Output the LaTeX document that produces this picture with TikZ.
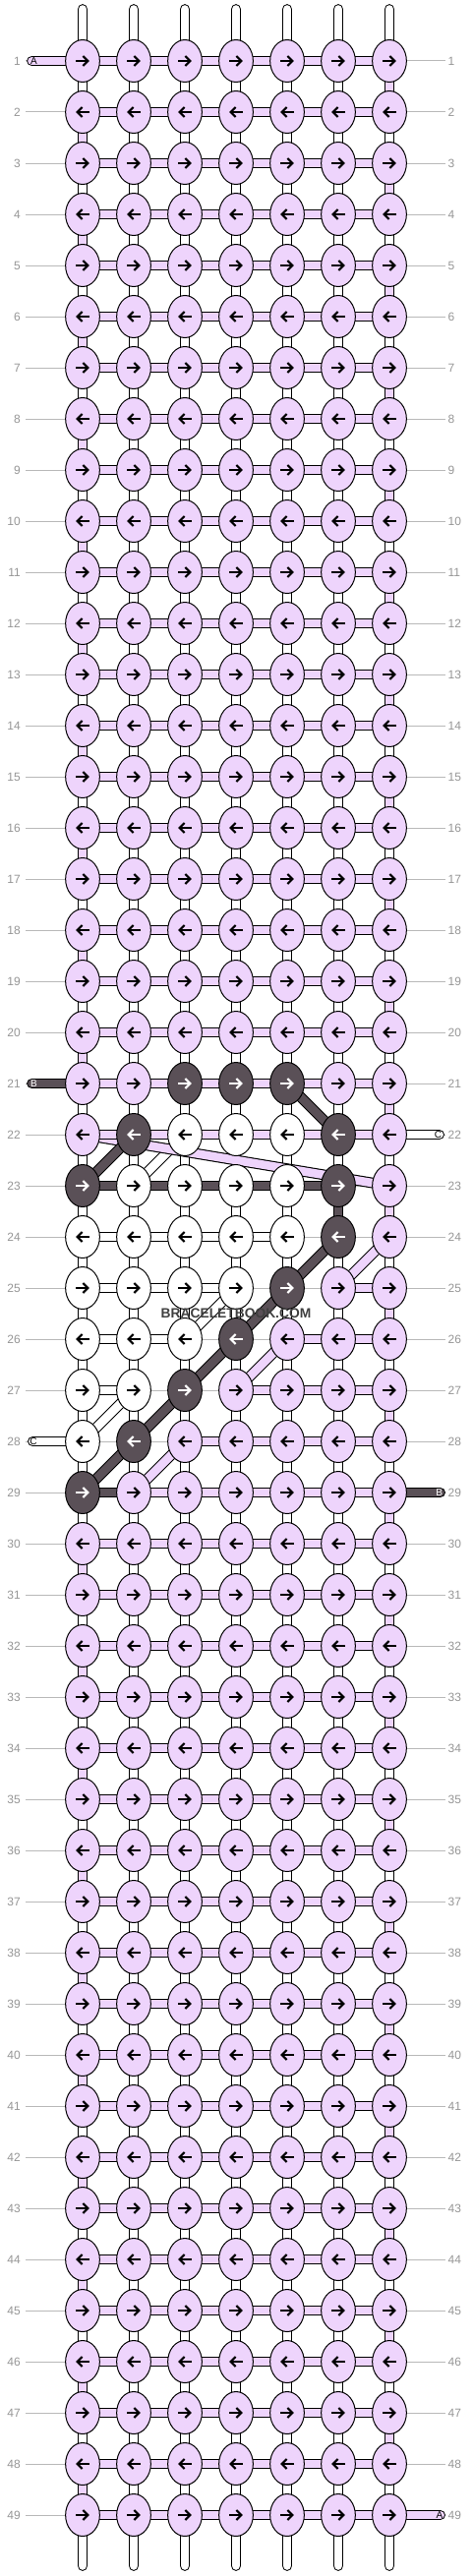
\documentclass[tikz,border=0pt]{standalone}
\usepackage{fontspec}
\setmainfont{Liberation Sans}
\usetikzlibrary{shapes.geometric}
\pgfdeclarelayer{bgl}
\pgfdeclarelayer{vl}
\pgfdeclarelayer{dg}
\pgfdeclarelayer{hl}
\pgfsetlayers{bgl,vl,dg,hl,main}
\definecolor{P}{RGB}{238,212,252}
\definecolor{D}{RGB}{90,80,87}
\definecolor{W}{RGB}{255,255,255}
\definecolor{B}{RGB}{255,255,255}
\definecolor{rowgray}{RGB}{185,185,185}
\definecolor{numgray}{RGB}{150,150,150}
\definecolor{midgray}{RGB}{175,175,175}
\definecolor{wm}{RGB}{64,64,64}
\newcommand\kset[2]{\foreach \x [count=\i] in {#2} {\expandafter\xdef\csname kc-#1-\i\endcsname{\x}}}
\newcommand\hset[2]{\foreach \x [count=\i] in {#2} {\expandafter\xdef\csname hc-#1-\i\endcsname{\x}}}
\newcommand\vset[2]{\foreach \x [count=\i] in {#2} {\expandafter\xdef\csname vc-#1-\i\endcsname{\x}}}
\kset{21}{P,P,D,D,D,P,P}
\kset{22}{P,D,W,W,W,D,P}
\kset{23}{D,W,W,W,W,D,P}
\kset{24}{W,W,W,W,W,D,P}
\kset{25}{W,W,W,W,D,P,P}
\kset{26}{W,W,W,D,P,P,P}
\kset{27}{W,W,D,P,P,P,P}
\kset{28}{W,D,P,P,P,P,P}
\kset{29}{D,P,P,P,P,P,P}
\hset{23}{D,D,D,D,D,N}
\hset{24}{W,W,W,W,N,N}
\hset{25}{W,W,W,N,N,P}
\hset{26}{W,W,N,N,P,P}
\hset{27}{W,N,N,P,P,P}
\hset{28}{N,N,P,P,P,P}
\hset{29}{D,P,P,P,P,P}
\vset{22}{B,B,B,B,B,B,B}
\vset{23}{B,B,B,B,B,D,P}
\vset{24}{W,B,B,B,B,B,B}
\vset{26}{W,B,B,B,B,B,B}
\vset{28}{B,B,B,B,B,B,B}
\tikzset{
 knot/.style={ellipse, draw=black, line width=1pt, minimum width=34.7pt, minimum height=43pt, inner sep=0pt},
 band/.style={draw=black, line width=1.1pt, double distance=8.6pt},
 midline/.style={draw=midgray, line width=0.7pt, double=white, double distance=1.2pt},
 rowline/.style={draw=rowgray, line width=1pt},
 numl/.style={font=\fontsize{12}{12}\selectfont, text=numgray, anchor=east, inner xsep=5pt, inner ysep=0pt},
 numr/.style={font=\fontsize{12}{12}\selectfont, text=numgray, anchor=west, inner xsep=2.5pt, inner ysep=0pt},
 tag/.style={font=\fontsize{10}{10}\selectfont, inner sep=0pt},
 rarr/.pic={\draw[line width=2.1pt, line cap=butt] (-7,0) -- (5.2,0);
            \draw[line width=2.1pt, line cap=butt, line join=miter] (0.4,-5) -- (5.4,0) -- (0.4,5);}
}
\begin{document}
\begin{tikzpicture}[x=1pt,y=-1pt]
\useasboundingbox (0,0) rectangle (480,2620);
\begin{pgfonlayer}{bgl}\fill[white] (0,0) rectangle (480,2620);\end{pgfonlayer}
% knots
\foreach \ri in {1,...,49}{
 \foreach \ci in {1,...,7}{
  \edef\kc{\ifcsname kc-\ri-\ci\endcsname\csname kc-\ri-\ci\endcsname\else P\fi}
  \if D\kc\def\ac{white}\else\def\ac{black}\fi
  \ifodd\ri\relax\def\sg{1}\else\def\sg{-1}\fi
  \node[knot, fill=\kc] (k-\ri-\ci) at ({84+52*(\ci-1)},{62+52*(\ri-1)}) {};
  \pic[color=\ac, xscale=\sg] at (k-\ri-\ci.center) {rarr};
 }}
% row numbers and lines
\foreach \ri in {1,...,49}{
  \node[numl] (ll-\ri) at (26,{62+52*(\ri-1)}) {\ri};
  \node[numr] (lr-\ri) at (453,{62+52*(\ri-1)}) {\ri};
  \begin{pgfonlayer}{bgl}\draw[rowline] (ll-\ri.east) -- (lr-\ri.west);\end{pgfonlayer}
}
% vertical links
\begin{pgfonlayer}{vl}
\foreach \ri in {1,...,48}{
 \pgfmathtruncatemacro\rn{\ri+1}
 \foreach \ci in {1,...,7}{
  \edef\vc{\ifcsname vc-\ri-\ci\endcsname\csname vc-\ri-\ci\endcsname\else\ifodd\ri\space\ifnum\ci=7 P\else B\fi\else\ifnum\ci=1 P\else B\fi\fi\fi}
  \draw[band, double=\vc] (k-\ri-\ci.center) -- (k-\rn-\ci.center);
  \if B\vc \draw[midline] (k-\ri-\ci.center) -- (k-\rn-\ci.center);\fi
 }}
\foreach \ci in {1,...,7}{
 \coordinate (t-\ci) at ({84+52*(\ci-1)},9.5);
 \coordinate (b-\ci) at ({84+52*(\ci-1)},2609.5);
 \draw[band,double=white,line cap=round] (t-\ci) -- (k-1-\ci.center);
 \draw[midline] (t-\ci) -- (k-1-\ci.center);
 \draw[band,double=white,line cap=round] (k-49-\ci.center) -- (b-\ci);
 \draw[midline] (k-49-\ci.center) -- (b-\ci);
}
\end{pgfonlayer}
% diagonals
\begin{pgfonlayer}{dg}
\foreach \a/\b/\dc in {22-3/23-2/W, 25-4/26-3/W, 27-2/28-1/W, 22-1/23-7/P, 24-7/25-6/P, 26-5/27-4/P, 28-3/29-2/P, 21-5/22-6/D, 22-2/23-1/D, 24-6/25-5/D, 25-5/26-4/D, 26-4/27-3/D, 27-3/28-2/D, 28-2/29-1/D}
 {\draw[band,double=\dc] (k-\a.center) -- (k-\b.center);}
\end{pgfonlayer}
% horizontal links
\begin{pgfonlayer}{hl}
\foreach \ri in {1,...,49}{
 \foreach \ci [evaluate=\ci as \cn using int(\ci+1)] in {1,...,6}{
  \edef\hc{\ifcsname hc-\ri-\ci\endcsname\csname hc-\ri-\ci\endcsname\else P\fi}
  \if N\hc\else\draw[band, double=\hc] (k-\ri-\ci.center) -- (k-\ri-\cn.center);\fi
 }}
\coordinate (eA1) at (32.5,62);
\draw[band,double=P,line cap=round] (eA1) -- (k-1-1.center);
\coordinate (eA2) at (447.6,2558);
\draw[band,double=P,line cap=round] (k-49-7.center) -- (eA2);
\coordinate (eB1) at (32.5,1102);
\draw[band,double=D,line cap=round] (eB1) -- (k-21-1.center);
\coordinate (eC1) at (446.6,1154);
\draw[band,double=W,line cap=round] (k-22-7.center) -- (eC1);
\coordinate (eC2) at (33.4,1466);
\draw[band,double=W,line cap=round] (eC2) -- (k-28-1.center);
\coordinate (eB2) at (447.6,1518);
\draw[band,double=D,line cap=round] (k-29-7.center) -- (eB2);
\end{pgfonlayer}
\node[tag] (tA1) at (34.5,62) {A};
\node[tag] (tA2) at (447,2558) {A};
\node[tag, text=white] (tB1) at (34.5,1102) {B};
\node[tag] (tC1) at (445.5,1154) {C};
\node[tag] (tC2) at (34,1466) {C};
\node[tag, text=white] (tB2) at (446.7,1518) {B};
\node[font=\bfseries\fontsize{13.8}{14}\selectfont, text=wm, inner sep=0pt] (wmk) at (240,1335.5) {BRACELETBOOK.COM};
\end{tikzpicture}
\end{document}
